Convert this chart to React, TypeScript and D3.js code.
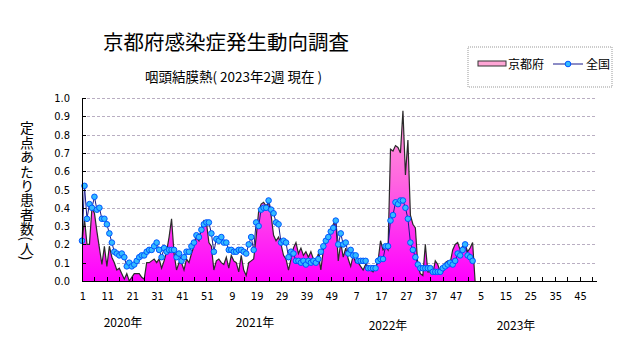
import React from 'react';
import * as d3 from 'd3';

// ---- data ----
const kyoto: number[] = [
  0.21, 0.34, 0.20, 0.20, 0.40, 0.37, 0.27, 0.18, 0.09, 0.19,
  0.08, 0.19, 0.13, 0.10, 0.06, 0.07, 0.04, 0.01, 0.04, 0.00,
  0.02, 0.04, 0.04, 0.04, 0.02, 0.01, 0.10, 0.10, 0.11, 0.12,
  0.10, 0.12, 0.07, 0.11, 0.16, 0.24, 0.34, 0.15, 0.06, 0.10,
  0.10, 0.06, 0.12, 0.10, 0.15, 0.19, 0.24, 0.22, 0.29, 0.33,
  0.32, 0.21, 0.19, 0.06, 0.11, 0.12, 0.10, 0.09, 0.13, 0.07,
  0.14, 0.11, 0.10, 0.05, 0.14, 0.06, 0.03, 0.10, 0.11, 0.12,
  0.24, 0.38, 0.42, 0.43, 0.41, 0.43, 0.36, 0.25, 0.22, 0.24,
  0.20, 0.14, 0.12, 0.06, 0.12, 0.18, 0.21, 0.15, 0.18, 0.14,
  0.16, 0.13, 0.16, 0.12, 0.10, 0.15, 0.06, 0.17, 0.21, 0.23,
  0.28, 0.31, 0.33, 0.11, 0.21, 0.13, 0.18, 0.12, 0.08, 0.14,
  0.10, 0.10, 0.08, 0.06, 0.09, 0.08, 0.06, 0.05, 0.07, 0.11,
  0.22, 0.17, 0.19, 0.17, 0.72, 0.71, 0.74, 0.73, 0.70, 0.93,
  0.58, 0.77, 0.36, 0.31, 0.29, 0.08, 0.04, 0.03, 0.20, 0.05,
  0.05, 0.04, 0.11, 0.09, 0.05, 0.05, 0.10, 0.11, 0.10, 0.17,
  0.20, 0.21, 0.17, 0.19, 0.20, 0.16, 0.18, 0.21,
];

const national: number[] = [
  0.22, 0.52, 0.34, 0.42, 0.40, 0.46, 0.39, 0.40, 0.34, 0.34,
  0.31, 0.26, 0.21, 0.16, 0.15, 0.14, 0.15, 0.13, 0.08, 0.10,
  0.08, 0.09, 0.11, 0.13, 0.14, 0.14, 0.16, 0.17, 0.17, 0.19,
  0.21, 0.17, 0.13, 0.18, 0.16, 0.17, 0.17, 0.17, 0.13, 0.15,
  0.11, 0.13, 0.16, 0.16, 0.19, 0.21, 0.25, 0.24, 0.28, 0.31,
  0.32, 0.32, 0.26, 0.16, 0.23, 0.22, 0.24, 0.21, 0.21, 0.17,
  0.17, 0.16, 0.16, 0.17, 0.17, 0.16, 0.15, 0.20, 0.24, 0.17,
  0.32, 0.30, 0.39, 0.40, 0.40, 0.44, 0.39, 0.37, 0.32, 0.31,
  0.21, 0.22, 0.21, 0.13, 0.16, 0.15, 0.11, 0.11, 0.10, 0.11,
  0.09, 0.11, 0.10, 0.11, 0.10, 0.12, 0.16, 0.19, 0.22, 0.24,
  0.27, 0.29, 0.33, 0.20, 0.26, 0.20, 0.21, 0.15, 0.17, 0.14,
  0.14, 0.11, 0.11, 0.11, 0.11, 0.07, 0.07, 0.07, 0.07, 0.11,
  0.12, 0.12, 0.19, 0.19, 0.33, 0.36, 0.43, 0.42, 0.44, 0.44,
  0.40, 0.34, 0.21, 0.17, 0.13, 0.09, 0.07, 0.07, 0.07, 0.07,
  0.07, 0.05, 0.05, 0.05, 0.05, 0.07, 0.08, 0.09, 0.10, 0.09,
  0.11, 0.15, 0.14, 0.17, 0.20, 0.14, 0.13, 0.11,
];

const xTickLabels: string[] = [
  '1', '11', '21', '31', '41', '51', '9', '19', '29', '39', '49',
  '7', '17', '27', '37', '47', '5', '15', '25', '35', '45',
];
const yTickValues: number[] = [0, 0.1, 0.2, 0.3, 0.4, 0.5, 0.6, 0.7, 0.8, 0.9, 1.0];
const yearLabels: string[] = ['2020年', '2021年', '2022年', '2023年'];
const seriesNames: string[] = ['京都府', '全国'];
const titleText = '京都府感染症発生動向調査';
const subtitleText = '咽頭結膜熱( 2023年2週 現在 )';
const yAxisTitle = '定点あたり患者数(人)';

// ---- layout ----
const W = 631;
const H = 347;
const PLOT = { left: 82, right: 597, top: 98, bottom: 281 };
const WEEK_SPAN = 207;
const yearPos = [
  { x: 123, y: 327 },
  { x: 255, y: 327 },
  { x: 388, y: 330 },
  { x: 516, y: 330 },
];
const JP = "'Noto Sans CJK JP', 'Noto Sans', sans-serif";
const NUM = "'Liberation Sans Narrow', 'DejaVu Sans Condensed', 'Liberation Sans', sans-serif";

export default function App() {
  const x = d3.scaleLinear().domain([0, WEEK_SPAN]).range([PLOT.left, PLOT.right]);
  const y = d3.scaleLinear().domain([0, 1]).range([PLOT.bottom, PLOT.top]);

  const kPts: [number, number][] = kyoto.map((v, i) => [i, v]);
  // area chart drops to zero at the first empty week
  kPts.push([kyoto.length, 0]);
  const nPts: [number, number][] = national.map((v, i) => [i, v]);

  const area = d3
    .area<[number, number]>()
    .x((d) => x(d[0]))
    .y0(y(0))
    .y1((d) => y(d[1]));
  const line = d3
    .line<[number, number]>()
    .x((d) => x(d[0]))
    .y((d) => y(d[1]));

  const minorTicks = d3.range(0, WEEK_SPAN, 5);
  const majorTicks = xTickLabels.map((_, k) => k * 10);

  return (
    <svg
      width={W}
      height={H}
      viewBox={`0 0 ${W} ${H}`}
      style={{ position: 'absolute', left: 0, top: 0, background: '#fff' }}
    >
      <defs>
        <linearGradient id="kfill" gradientUnits="userSpaceOnUse" x1="0" y1={y(1)} x2="0" y2={y(0)}>
          <stop offset="0" stopColor="#ffa6d6" />
          <stop offset="0.45" stopColor="#ff66e0" />
          <stop offset="1" stopColor="#ff00ff" />
        </linearGradient>
      </defs>
      <rect x={0} y={0} width={W} height={H} fill="#fff" />

      {/* title */}
      <text x={103} y={50} fontFamily={JP} fontSize={20.5} fill="#000">
        {titleText}
      </text>
      <text x={145} y={82} fontFamily={JP} fontSize={13.5} fill="#000">
        {subtitleText}
      </text>

      {/* legend */}
      <rect x={468} y={47} width={144} height={40} fill="#fff" stroke="#999" strokeDasharray="1 1" />
      <rect x={478} y={61} width={28} height={5} fill="url(#kfill)" stroke="#333" strokeWidth={1} />
      <text x={508} y={69} fontFamily={JP} fontSize={12} fill="#000">
        {seriesNames[0]}
      </text>
      <line x1={553} x2={583} y1={64} y2={64} stroke="#1a1a8c" strokeWidth={1} />
      <circle cx={568} cy={64} r={2.8} fill="#33bbff" stroke="#0055ff" strokeWidth={1} />
      <text x={586} y={69} fontFamily={JP} fontSize={12} fill="#000">
        {seriesNames[1]}
      </text>

      {/* y axis title */}
      <text
        x={27}
        y={121}
        fontFamily={JP}
        fontSize={14}
        letterSpacing={0.4}
        fill="#000"
        style={{ writingMode: 'vertical-rl' as any }}
      >
        {yAxisTitle}
      </text>

      {/* grid */}
      {yTickValues
        .filter((v) => v > 0)
        .map((v) => (
          <line
            key={`g${v}`}
            x1={PLOT.left}
            x2={PLOT.right}
            y1={Math.round(y(v)) + 0.5}
            y2={Math.round(y(v)) + 0.5}
            stroke="#b9aec2"
            strokeDasharray="3 2"
            strokeWidth={1}
          />
        ))}

      {/* Kyoto area */}
      <path d={area(kPts) || ''} fill="url(#kfill)" />
      <path d={line(kPts) || ''} fill="none" stroke="#2a2a2a" strokeWidth={1.2} />

      {/* national line */}
      <path d={line(nPts) || ''} fill="none" stroke="#1a1a8c" strokeWidth={1} />
      {nPts.map((d) => (
        <circle
          key={`n${d[0]}`}
          cx={x(d[0])}
          cy={y(d[1])}
          r={2.8}
          fill="#33bbff"
          stroke="#0055ff"
          strokeWidth={1}
        />
      ))}

      {/* axes */}
      <line x1={PLOT.left + 0.5} x2={PLOT.left + 0.5} y1={PLOT.top} y2={PLOT.bottom + 1} stroke="#000" />
      <line x1={PLOT.left} x2={PLOT.right} y1={PLOT.bottom + 0.5} y2={PLOT.bottom + 0.5} stroke="#000" />
      {yTickValues.map((v) => (
        <g key={`yt${v}`}>
          <line
            x1={PLOT.left}
            x2={PLOT.left + 4}
            y1={Math.round(y(v)) + 0.5}
            y2={Math.round(y(v)) + 0.5}
            stroke="#000"
          />
          <text
            x={70}
            y={y(v) + 4}
            textAnchor="end"
            fontFamily={NUM}
            fontSize={11}
            fill="#000"
          >
            {v.toFixed(1)}
          </text>
        </g>
      ))}
      {minorTicks.map((t) => (
        <line
          key={`xt${t}`}
          x1={Math.round(x(t)) + 0.5}
          x2={Math.round(x(t)) + 0.5}
          y1={PLOT.bottom}
          y2={PLOT.bottom - 4}
          stroke="#000"
        />
      ))}
      {majorTicks.map((t, k) => (
        <text
          key={`xl${t}`}
          x={x(t) + 1}
          y={300}
          textAnchor="middle"
          fontFamily={NUM}
          fontSize={11}
          fill="#000"
        >
          {xTickLabels[k]}
        </text>
      ))}
      {yearLabels.map((s, k) => (
        <text
          key={s}
          x={yearPos[k].x}
          y={yearPos[k].y}
          textAnchor="middle"
          fontFamily={JP}
          fontSize={12}
          fill="#000"
        >
          {s}
        </text>
      ))}
    </svg>
  );
}
